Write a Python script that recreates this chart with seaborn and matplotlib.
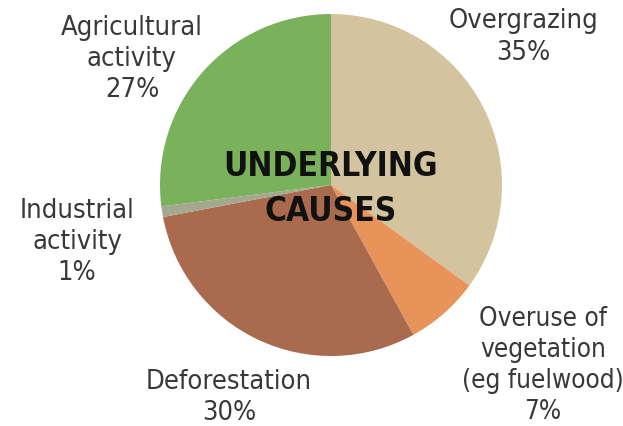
import matplotlib
matplotlib.use("Agg")
import matplotlib.pyplot as plt
import seaborn as sns

sns.set_style("white")
plt.rcParams['font.family'] = ['DejaVu Sans']

categories = ["Overgrazing", "Overuse of\nvegetation\n(eg fuelwood)", "Deforestation",
              "Industrial\nactivity", "Agricultural\nactivity"]
values = [35, 7, 30, 1, 27]
colors = ["#D3C49F", "#E8935A", "#A96A4E", "#A3A88F", "#79B25A"]
# label block centres in pixels (x, y from top)
label_px = [(523, 37), (543, 366), (229, 398), (77, 242), (132, 59)]
label_size = [19.5, 18.8, 19.5, 19.5, 19.5]

W, H = 623, 427
fig = plt.figure(figsize=(W / 100, H / 100), dpi=100)
cx, cy, r = 331, 186, 171
ax = fig.add_axes([(cx - r) / W, (H - cy - r) / H, 2 * r / W, 2 * r / H])
ax.pie(values, colors=colors, startangle=90, counterclock=False, radius=1,
       wedgeprops=dict(linewidth=0))
ax.set_xlim(-1, 1)
ax.set_ylim(-1, 1)
ax.set_aspect("auto")
ax.axis("off")

for cat, v, (px, py), fs in zip(categories, values, label_px, label_size):
    fig.text(px / W, 1 - py / H, f"{cat}\n{v}%", ha="center", va="center",
             fontsize=fs, color="#383838", linespacing=1.25, fontstretch="condensed")

fig.text(331 / W, 1 - 189 / H, "UNDERLYING\nCAUSES", ha="center", va="center",
         fontsize=24, fontweight="bold", color="#111111", linespacing=1.45,
         fontstretch="condensed")

fig.savefig("out.png", dpi=100, facecolor="white")
